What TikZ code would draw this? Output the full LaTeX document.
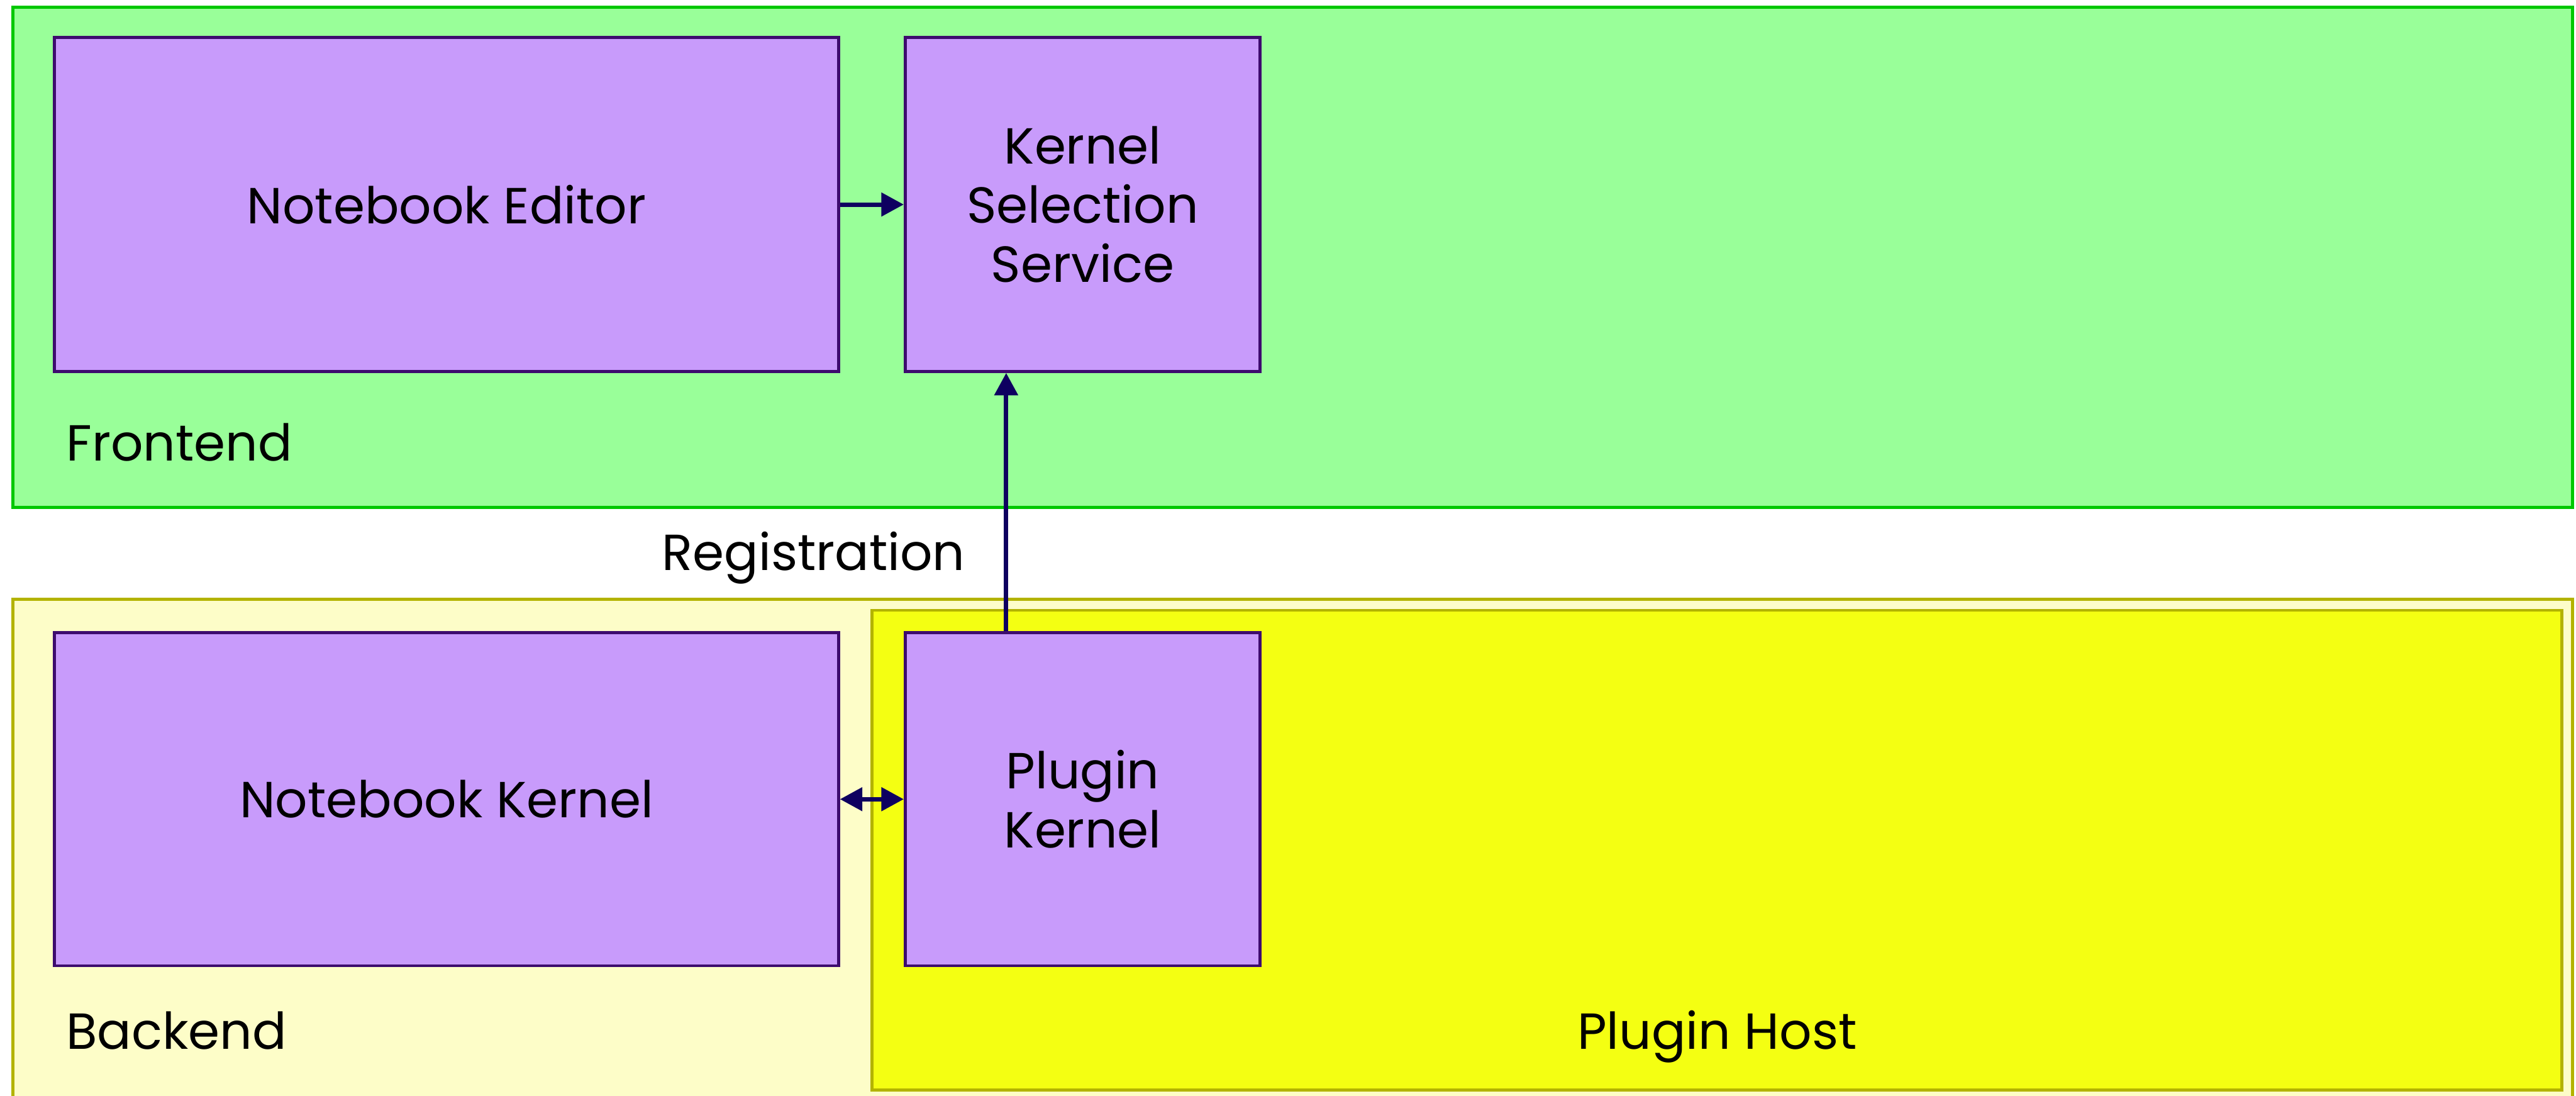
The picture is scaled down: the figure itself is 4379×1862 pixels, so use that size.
\documentclass[tikz,border=0pt]{standalone}
\usepackage{fontspec}
\setmainfont{Poppins}
\usetikzlibrary{arrows.meta}

\definecolor{feFill}{HTML}{99FF99}
\definecolor{feLine}{HTML}{00C800}
\definecolor{beFill}{HTML}{FDFDC8}
\definecolor{beLine}{HTML}{B3B300}
\definecolor{phFill}{HTML}{F4FF12}
\definecolor{boxFill}{HTML}{C89BFB}
\definecolor{boxLine}{HTML}{3D0B6E}
\definecolor{linkCol}{HTML}{0E0060}

\tikzset{
  grp/.style={line width=0.05cm},
  comp/.style={draw=boxLine, fill=boxFill, line width=0.05cm, rectangle,
    inner sep=0pt, align=center, font=\fontsize{24.5pt}{28.45pt}\selectfont},
  lbl/.style={inner sep=0pt, font=\fontsize{24.5pt}{28.45pt}\selectfont},
  link/.style={draw=linkCol, line width=0.075cm,
    -{Triangle[length=0.38cm, width=0.39cm]}},
  link2/.style={draw=linkCol, line width=0.075cm,
    {Triangle[length=0.38cm, width=0.39cm]}-{Triangle[length=0.38cm, width=0.39cm]}}
}

\begin{document}
\begin{tikzpicture}[x=0.01cm, y=-0.01cm]
  \useasboundingbox (0,0) rectangle (4379,1862);
  \clip (0,0) rectangle (4379,1862);
  \fill[white] (0,0) rectangle (4379,1862);

  % groups
  \draw[grp, draw=feLine, fill=feFill] (22,12) rectangle (4373,862);
  \draw[grp, draw=beLine, fill=beFill] (22,1018) rectangle (4373,1920);
  \draw[grp, draw=beLine, fill=phFill] (1482,1037) rectangle (4355,1852);

  \node[lbl, anchor=base west] (feLabel) at (112,783) {Frontend};
  \node[lbl, anchor=base west] (beLabel) at (112,1783) {Backend};
  \node[lbl, anchor=base] (phLabel) at (2919,1783) {Plugin Host};

  % components
  \node[comp, minimum width=13.32cm, minimum height=5.67cm] (ne) at (759,347.5) {Notebook Editor};
  \node[comp, minimum width=6.03cm, minimum height=5.67cm] (ks) at (1840.5,347.5) {Kernel\\Selection\\Service};
  \node[comp, minimum width=13.32cm, minimum height=5.66cm] (nk) at (759,1358) {Notebook Kernel};
  \node[comp, minimum width=6.03cm, minimum height=5.66cm] (pk) at (1840.5,1358) {Plugin\\Kernel};

  % connectors
  \draw[link] (ne.east) -- (ks.west);
  \draw[link] ([xshift=-1.3cm]pk.north) -- ([xshift=-1.3cm]ks.south);
  \draw[link2] (nk.east) -- (pk.west);

  \node[lbl, anchor=base] (reg) at (1383,969) {Registration};
\end{tikzpicture}
\end{document}
